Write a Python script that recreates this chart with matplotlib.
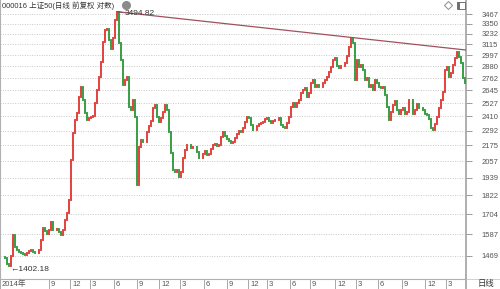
import matplotlib
matplotlib.use("Agg")
import matplotlib.pyplot as plt
from matplotlib.lines import Line2D
from matplotlib.patches import Rectangle
from matplotlib.ticker import NullLocator, NullFormatter

TITLE = "000016 上证50(日线 前复权 对数)"
PERIOD_LABEL = "日线"

# closes, one value per ~2 px (about a week of trading)
closes = [
    1464, 1464, 1459, 1428, 1418, 1469, 1583, 1517, 1500, 1490,
    1485, 1479, 1474, 1485, 1495, 1500, 1490, 1485, 1485, 1500,
    1555, 1622, 1605, 1588, 1611, 1657, 1611, 1611, 1617, 1600,
    1583, 1611, 1669, 1711, 1792, 2065, 2273, 2380, 2440, 2582,
    2676, 2555, 2440, 2380, 2397, 2406, 2414, 2528, 2647, 2772,
    2924, 3139, 3276, 3287, 3161, 3062, 3184, 3394, 3490, 3128,
    2945, 2695, 2743, 2772, 2492, 2466, 2555, 2406, 1890, 2163,
    2217, 2201, 2201, 2281, 2330, 2372, 2484, 2510, 2406, 2363,
    2397, 2449, 2510, 2466, 2281, 2117, 1993, 1979, 1993, 1944,
    1979, 2080, 2140, 2178, 2178, 2155, 2163, 2163, 2125, 2080,
    2080, 2110, 2132, 2102, 2110, 2147, 2178, 2186, 2170, 2178,
    2241, 2281, 2249, 2225, 2209, 2194, 2201, 2233, 2265, 2289,
    2281, 2313, 2363, 2406, 2397, 2338, 2297, 2297, 2330, 2346,
    2355, 2363, 2389, 2397, 2372, 2355, 2372, 2380, 2380, 2397,
    2338, 2322, 2313, 2355, 2406, 2492, 2528, 2492, 2528, 2555,
    2619, 2647, 2666, 2582, 2619, 2714, 2743, 2676, 2695, 2676,
    2676, 2714, 2743, 2772, 2822, 2873, 2945, 2966, 2883, 2862,
    2883, 2883, 2914, 2987, 3084, 3184, 3128, 2743, 2945, 2873,
    2893, 2842, 2743, 2763, 2676, 2695, 2647, 2743, 2714, 2676,
    2666, 2676, 2601, 2492, 2380, 2449, 2510, 2546, 2466, 2431,
    2466, 2484, 2431, 2449, 2555, 2555, 2431, 2466, 2519, 2484,
    2484, 2466, 2431, 2423, 2389, 2313, 2297, 2346, 2406, 2484,
    2555, 2629, 2842, 2873, 2772, 2812, 2893, 2966, 3030, 2976,
    2914, 2763, 2714,
]

y_ticks = [3467, 3350, 3232, 3115, 2997, 2880, 2762, 2645, 2527,
           2410, 2292, 2175, 2057, 1939, 1822, 1704, 1587, 1469]

x_tick_pos = [-0.5, 24, 34.5, 44.5, 56.5, 68, 79, 89.5, 101.5, 113, 123.5,
              133, 144.5, 154.5, 167, 177.5, 188.5, 200.5, 212, 222.5]
x_tick_labels = ["2014年", "9", "12", "3", "6", "9", "12", "3", "6", "9", "12",
                 "3", "6", "9", "12", "3", "6", "9", "12", "3"]

peak_idx, peak_val = 58, 3494.82
low_idx, low_val = 4, 1402.18
trend_end_val = 3051

W, H = 500, 289
UP, DOWN = "#e03a35", "#2f9a3c"
GRAY = "#9a9a9a"
TXT = "#555555"
NUM_FONT = ["Liberation Sans Narrow", "Liberation Sans", "Noto Sans CJK SC"]
CJK_FONT = ["Liberation Sans", "Noto Sans CJK SC", "DejaVu Sans"]


def fx(x):
    return x / W


def fy(y):
    return 1 - y / H


fig = plt.figure(figsize=(W / 100, H / 100), dpi=100)
fig.patch.set_facecolor("white")
ax = fig.add_axes([0, (H - 279) / H, 466 / W, 279 / H])

ax.set_yscale("log")
ax.set_ylim(1353.8, 3643.6)
ax.set_xlim(-0.5, len(closes) - 0.5)

# candles: body from previous close to close
xs = list(range(len(closes)))
opens = [closes[0]] + closes[:-1]
lo = [min(o, c) for o, c in zip(opens, closes)]
hi = [max(o, c) for o, c in zip(opens, closes)]
cols = [UP if c >= o else DOWN for o, c in zip(opens, closes)]
lc = ax.vlines(xs, lo, hi, colors=cols, linewidth=1.35, zorder=3)
lc.set_capstyle("projecting")

# trend line through the two highs
ax.plot([peak_idx, len(closes) - 0.5], [peak_val, trend_end_val],
        color="#a0505e", lw=0.9, zorder=4, solid_capstyle="butt")

ax.annotate(f"{peak_val:.2f}", xy=(peak_idx, peak_val), xytext=(8, -2),
            textcoords="offset pixels", ha="left", va="center",
            fontsize=6, color="#333333", family=NUM_FONT, zorder=5,
            arrowprops=dict(arrowstyle="-", color="#555555", lw=0.6,
                            shrinkA=0, shrinkB=0))
ax.annotate(f"←{low_val:.2f}", xy=(low_idx, low_val), xytext=(1, 0),
            textcoords="offset pixels", ha="left", va="center",
            fontsize=6, color="#333333", family=["Liberation Sans", "DejaVu Sans"],
            zorder=5)

# grid / spines
ax.set_yticks(y_ticks)
ax.set_yticklabels([str(v) for v in y_ticks])
ax.yaxis.set_minor_locator(NullLocator())
ax.yaxis.set_minor_formatter(NullFormatter())
ax.yaxis.tick_right()
ax.grid(axis="y", which="major", color="#c8c8c8", linestyle=(0, (1, 1.5)), lw=0.7)
ax.set_axisbelow(True)
ax.tick_params(axis="y", which="major", direction="out", length=4, width=0.7,
               colors=GRAY, pad=7, labelsize=5.5, labelcolor=TXT)
for lab in ax.get_yticklabels():
    lab.set_family(NUM_FONT)

ax.set_xticks(x_tick_pos)
ax.set_xticklabels([])
ax.tick_params(axis="x", which="major", direction="out", length=7, width=0.6,
               colors=GRAY)
for pos, lab in zip(x_tick_pos, x_tick_labels):
    ax.annotate(lab, xy=(pos, 0), xycoords=("data", "axes fraction"),
                xytext=(2, -5), textcoords="offset pixels", ha="left",
                va="center", fontsize=5.5, color=TXT, family=NUM_FONT)

ax.spines["top"].set_visible(False)
for side in ("left", "bottom"):
    ax.spines[side].set_color("#b0b0b0")
    ax.spines[side].set_linewidth(0.8)
ax.spines["right"].set_color("#a8a8a8")
ax.spines["right"].set_linewidth(1.3)

# right axis rule continues through the date row
fig.add_artist(Line2D([fx(466), fx(466)], [0, fy(279)], color="#a8a8a8", lw=1.3))
fig.add_artist(Line2D([fx(466), 1], [fy(279), fy(279)], color="#c8c8c8", lw=0.6))
fig.text(fx(478), fy(284), PERIOD_LABEL, fontsize=6, ha="left", va="center",
         color="#333333", family=CJK_FONT)

# title row and icons
fig.text(fx(2), fy(6), TITLE, fontsize=5.4, ha="left", va="center",
         color="#333333", family=CJK_FONT)
fig.add_artist(Line2D([fx(126)], [fy(5)], marker="o", markersize=5.5,
                      color="#8a8a8a", transform=fig.transFigure))
fig.add_artist(Line2D([fx(448)], [fy(5)], marker="D", markersize=4,
                      markerfacecolor="white", markeredgecolor="#8a8a8a",
                      markeredgewidth=0.7, transform=fig.transFigure))
fig.add_artist(Rectangle((fx(457), fy(9)), 8 / W, 7 / H, fill=False,
                         edgecolor="#707070", lw=0.7, transform=fig.transFigure))
fig.add_artist(Rectangle((fx(457), fy(9)), 3 / W, 7 / H, facecolor="#707070",
                         edgecolor="none", transform=fig.transFigure))

fig.savefig("out.png", dpi=100, facecolor="white")
